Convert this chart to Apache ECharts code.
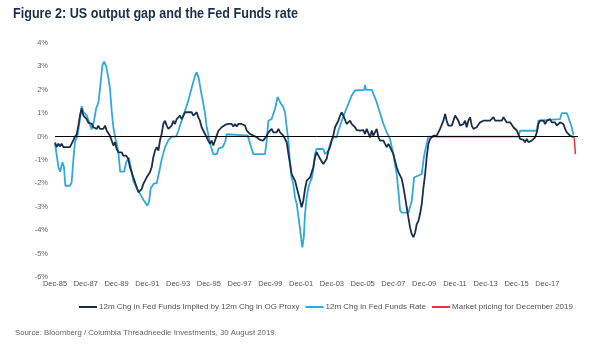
<!DOCTYPE html>
<html>
<head>
<meta charset="utf-8">
<script src="https://cdn.jsdelivr.net/npm/echarts@6/dist/echarts.min.js"></script>
<style>
html,body{margin:0;padding:0;background:#fff;}
#c{width:600px;height:355px;}
</style>
</head>
<body>
<div id="c"></div>
<script>
// x values are decimal years, y values in percentage points
var ogSeries = [
[1985.92,-0.25],[1986.03,-0.45],[1986.14,-0.3],[1986.24,-0.42],[1986.35,-0.3],[1986.46,-0.45],[1986.57,-0.38],[1986.68,-0.45],[1986.78,-0.52],[1986.89,-0.45],
[1987.0,-0.3],[1987.11,-0.15],[1987.22,0],[1987.33,0.1],[1987.43,0.45],[1987.54,0.9],[1987.65,1.2],[1987.76,0.9],[1987.87,0.82],[1987.98,0.75],
[1988.08,0.6],[1988.19,0.68],[1988.3,0.55],[1988.41,0.4],[1988.52,0.47],[1988.63,0.33],[1988.73,0.47],[1988.84,0.33],[1988.95,0.25],[1989.06,0.33],
[1989.17,0.47],[1989.28,0.25],[1989.38,0.18],[1989.49,0.04],[1989.6,-0.17],[1989.71,-0.38],[1989.82,-0.24],[1989.93,-0.53],[1990.04,-0.67],[1990.25,-0.67],
[1990.36,-0.81],[1990.53,-0.81],[1990.68,-0.95],[1990.79,-1.31],[1990.9,-1.52],[1991.01,-1.74],[1991.12,-1.95],[1991.23,-2.17],[1991.34,-2.38],[1991.44,-2.45],
[1991.55,-2.24],[1991.66,-2.02],[1991.77,-1.88],[1991.88,-1.74],[1991.99,-1.74],[1992.09,-1.52],[1992.2,-1.31],[1992.31,-0.88],[1992.42,-0.6],[1992.53,-0.45],
[1992.64,-0.6],[1992.74,-0.17],[1992.85,0.11],[1992.96,0.54],[1993.07,0.68],[1993.18,0.47],[1993.29,0.33],[1993.39,0.25],[1993.5,0.47],[1993.61,0.68],
[1993.72,0.54],[1993.83,0.75],[1993.94,0.68],[1994.04,0.9],[1994.15,0.75],[1994.26,0.9],[1994.37,1.04],[1994.48,0.97],[1994.59,1.04],[1994.69,0.97],
[1994.8,1.04],[1994.91,0.9],[1995.02,0.97],[1995.13,1.04],[1995.23,0.83],[1995.34,0.68],[1995.45,0.4],[1995.56,0.25],[1995.67,0.11],[1995.78,-0.03],
[1995.88,-0.17],[1995.99,-0.31],[1996.1,-0.17],[1996.21,-0.38],[1996.32,-0.17],[1996.43,0.04],[1996.54,0.25],[1996.64,0.25],[1996.75,0.4],[1996.86,0.33],
[1996.97,0.5],[1997.08,0.42],[1997.19,0.54],[1997.3,0.47],[1997.4,0.54],[1997.51,0.43],[1997.62,0.54],[1997.73,0.43],[1997.84,0.54],[1997.95,0.47],
[1998.05,0.54],[1998.16,0.54],[1998.27,0.47],[1998.38,0.26],[1998.49,0.18],[1998.6,0.11],[1998.7,0.11],[1998.81,0.04],[1998.92,-0.03],[1999.03,-0.03],
[1999.14,-0.1],[1999.25,-0.14],[1999.35,-0.17],[1999.46,-0.17],[1999.57,-0.1],[1999.68,0.04],[1999.79,0.18],[1999.9,0.26],[2000.0,0.33],[2000.11,0.18],
[2000.22,0.26],[2000.33,0.18],[2000.44,0.33],[2000.55,0.18],[2000.65,0.11],[2000.76,0.04],[2000.87,-0.03],[2000.98,-0.24],[2001.09,-0.74],[2001.2,-1.17],
[2001.3,-1.6],[2001.41,-1.6],[2001.52,-1.88],[2001.63,-2.17],[2001.74,-2.45],[2001.85,-2.74],[2001.95,-3.02],[2002.06,-2.74],[2002.17,-2.24],[2002.28,-1.88],
[2002.39,-1.88],[2002.5,-1.74],[2002.6,-1.67],[2002.71,-1.31],[2002.82,-0.88],[2002.93,-0.67],[2003.04,-0.81],[2003.15,-0.95],[2003.26,-1.03],[2003.36,-1.17],
[2003.47,-1.24],[2003.58,-0.95],[2003.69,-0.6],[2003.8,-0.45],[2003.9,-0.17],[2004.01,0.04],[2004.12,0.4],[2004.23,0.54],[2004.34,0.68],[2004.45,0.9],
[2004.56,1.04],[2004.66,0.9],[2004.77,0.83],[2004.88,0.54],[2004.99,0.61],[2005.1,0.68],[2005.2,0.54],[2005.31,0.47],[2005.42,0.4],[2005.53,0.28],
[2005.64,0.33],[2005.75,0.26],[2005.86,0.18],[2005.96,0.28],[2006.07,0.11],[2006.18,0.33],[2006.29,0.26],[2006.4,-0.03],[2006.51,0.26],[2006.61,0.04],
[2006.72,0.18],[2006.83,0.33],[2006.94,-0.03],[2007.05,-0.17],[2007.16,-0.1],[2007.27,-0.17],[2007.37,-0.31],[2007.48,-0.45],[2007.59,-0.31],[2007.7,-0.45],
[2007.81,-0.6],[2007.91,-0.74],[2008.02,-1.03],[2008.13,-1.31],[2008.24,-1.52],[2008.35,-1.6],[2008.46,-1.81],[2008.57,-2.17],[2008.68,-2.6],[2008.78,-3.02],
[2008.89,-3.46],[2009.0,-3.89],[2009.11,-4.17],[2009.22,-4.3],[2009.33,-4.1],[2009.43,-3.75],[2009.54,-3.6],[2009.65,-3.3],[2009.76,-2.88],[2009.87,-2.17],
[2009.98,-1.6],[2010.08,-0.88],[2010.19,-0.31],[2010.3,-0.1],[2010.41,-0.03],[2010.52,0.04],[2010.63,0.11],[2010.73,0.04],[2010.84,0.18],[2010.95,0.33],
[2011.06,0.33],[2011.17,0.68],[2011.28,0.97],[2011.38,0.68],[2011.49,0.47],[2011.6,0.4],[2011.71,0.47],[2011.82,0.4],[2011.93,0.9],[2012.03,0.97],
[2012.14,0.68],[2012.25,0.47],[2012.36,0.4],[2012.47,0.54],[2012.58,0.68],[2012.68,0.4],[2012.79,0.68],[2012.9,0.83],[2013.01,0.47],[2013.12,0.33],
[2013.23,0.26],[2013.33,0.4],[2013.44,0.47],[2013.55,0.61],[2013.77,0.68],[2013.88,0.61],[2013.98,0.68],[2014.09,0.75],[2014.2,0.68],[2014.31,0.68],
[2014.42,0.83],[2014.53,0.68],[2014.64,0.75],[2014.74,0.68],[2014.85,0.75],[2014.96,0.68],[2015.07,0.83],[2015.18,0.75],[2015.28,0.61],[2015.39,0.54],
[2015.5,0.61],[2015.61,0.54],[2015.72,0.4],[2015.83,0.33],[2015.94,0.26],[2016.04,0.11],[2016.15,-0.1],[2016.26,-0.17],[2016.37,-0.14],[2016.48,-0.24],
[2016.59,-0.1],[2016.69,-0.24],[2016.8,-0.31],[2016.91,-0.17],[2017.02,-0.1],[2017.13,-0.03],[2017.24,0.18],[2017.34,0.54],[2017.45,0.68],[2017.56,0.61],
[2017.67,0.68],[2017.78,0.54],[2017.89,0.68],[2017.99,0.61],[2018.1,0.75],[2018.21,0.61],[2018.32,0.54],[2018.43,0.61],[2018.54,0.47],[2018.65,0.54],
[2018.75,0.61],[2018.86,0.68],[2018.97,0.54],[2019.08,0.33],[2019.19,0.18],[2019.29,0.11],[2019.4,0.04],[2019.51,0.0],[2019.62,-0.03]
];
var ffSeries = [
[1985.92,-0.3],[1986.14,-1.3],[1986.25,-1.5],[1986.4,-1.1],[1986.5,-1.3],[1986.59,-2.1],[1986.9,-2.1],[1987.0,-1.95],[1987.11,-1.0],[1987.22,-0.2],
[1987.37,0.0],[1987.55,0.8],[1987.65,1.3],[1987.76,1.05],[1987.98,0.9],[1988.2,0.5],[1988.3,0.3],[1988.46,0.7],[1988.59,1.2],[1988.74,1.45],
[1988.85,2.1],[1989.0,3.05],[1989.11,3.2],[1989.24,3.0],[1989.39,2.5],[1989.5,2.0],[1989.6,1.1],[1989.71,0.4],[1989.82,0.0],[1989.93,-0.3],
[1990.04,-0.7],[1990.15,-1.5],[1990.41,-1.5],[1990.54,-1.1],[1990.71,-0.9],[1990.84,-1.3],[1991.01,-1.9],[1991.23,-2.2],[1991.45,-2.45],[1991.66,-2.7],
[1991.92,-2.95],[1992.03,-2.8],[1992.14,-2.2],[1992.36,-2.0],[1992.53,-2.0],[1992.66,-1.6],[1992.86,-0.95],[1993.07,-0.45],[1993.29,-0.15],[1993.51,0.0],
[1993.79,0.0],[1993.94,0.25],[1994.16,0.7],[1994.37,1.1],[1994.59,1.55],[1994.81,2.1],[1995.02,2.6],[1995.13,2.75],[1995.26,2.5],[1995.39,2.0],
[1995.52,1.55],[1995.67,1.0],[1995.78,0.4],[1995.91,0.0],[1996.04,-0.4],[1996.21,-0.75],[1996.43,-0.75],[1996.56,-0.5],[1996.82,-0.45],[1996.99,-0.2],
[1997.08,0.1],[1998.27,0.05],[1998.44,0.05],[1998.6,-0.3],[1998.81,-0.75],[1999.57,-0.75],[1999.68,-0.17],[1999.79,0.68],[2000.0,0.75],[2000.22,1.18],
[2000.39,1.7],[2000.55,1.47],[2000.76,1.25],[2000.87,1.04],[2000.98,0.4],[2001.09,-0.17],[2001.2,-1.17],[2001.3,-1.74],[2001.41,-2.02],[2001.52,-2.6],
[2001.63,-2.88],[2001.78,-3.6],[2001.91,-4.3],[2002.0,-4.73],[2002.09,-4.3],[2002.17,-3.3],[2002.28,-2.6],[2002.39,-2.17],[2002.5,-1.95],[2002.6,-1.81],
[2002.71,-1.38],[2002.82,-0.74],[2002.93,-0.53],[2003.36,-0.53],[2003.47,-0.74],[2003.58,-0.74],[2003.69,-0.6],[2003.8,-0.31],[2003.9,-0.17],[2004.01,-0.03],
[2004.23,-0.03],[2004.34,0.26],[2004.56,0.68],[2004.77,1.04],[2004.99,1.4],[2005.2,1.75],[2005.42,1.97],[2005.53,2.0],[2006.03,2.0],[2006.07,2.2],
[2006.14,2.0],[2006.51,2.0],[2006.61,1.97],[2006.83,1.47],[2007.05,1.0],[2007.27,0.54],[2007.48,0.18],[2007.7,-0.1],[2007.81,-0.45],[2007.91,-0.74],
[2008.02,-1.17],[2008.13,-1.6],[2008.24,-2.31],[2008.35,-3.15],[2008.46,-3.25],[2008.89,-3.25],[2009.11,-2.75],[2009.26,-1.75],[2009.76,-1.6],[2009.87,-1.0],
[2009.98,-0.6],[2010.19,0.0],[2016.04,0.0],[2016.15,0.25],[2017.24,0.25],[2017.34,0.68],[2018.75,0.75],[2018.86,1.0],[2019.19,1.0],[2019.29,0.83],
[2019.4,0.75],[2019.51,0.4],[2019.62,0.05]
];
var mktSeries = [[2019.67,-0.03],[2019.75,-0.75]];
var yTicks = [-6,-5,-4,-3,-2,-1,0,1,2,3,4];
var seriesNames = ['12m Chg in Fed Funds Implied by 12m Chg in OG Proxy','12m Chg in Fed Funds Rate','Market pricing for December 2019'];
var titleText = 'Figure 2: US output gap and the Fed Funds rate';
var sourceText = 'Source: Bloomberg / Columbia Threadneedle Investments, 30 August 2019.';

var START = 1985 + 11/12; // Dec-85
function toMonths(arr){ return arr.map(function(p){ return [(p[0]-START)*12, p[1]]; }); }

var font = '"Liberation Sans",Arial,sans-serif';
var chart = echarts.init(document.getElementById('c'));
chart.setOption({
  animation:false,
  backgroundColor:'#fff',
  graphic:[
    {type:'text', x:13, y:6, scaleX:0.84, style:{text:titleText, fontFamily:font, fontSize:15, fontWeight:'bold', fill:'#1d3048'}},
    {type:'text', left:15, top:329, style:{text:sourceText, fontFamily:font, fontSize:7.8, fill:'#666'}}
  ],
  legend:{
    left:74, top:298, itemWidth:18, itemHeight:2, itemGap:6, icon:'rect',
    textStyle:{fontFamily:font, fontSize:8, color:'#555', padding:[0,0,0,-3]},
    data:seriesNames
  },
  grid:{left:55, right:22, top:43, bottom:78, containLabel:false},
  xAxis:{
    type:'value', min:0, max:408, interval:24,
    axisLine:{show:false}, axisTick:{show:false}, splitLine:{show:false},
    axisLabel:{
      showMaxLabel:false, margin:3, fontFamily:font, fontSize:7.5, color:'#555',
      formatter:function(v){ var y=Math.round(1985+v/12)%100; return 'Dec-'+(y<10?'0':'')+y; }
    }
  },
  yAxis:{
    type:'value', min:yTicks[0], max:yTicks[yTicks.length-1], interval:1,
    axisLine:{show:false}, axisTick:{show:false}, splitLine:{show:false},
    axisLabel:{formatter:'{value}%', margin:7, fontFamily:font, fontSize:7.5, color:'#666'}
  },
  series:[
    {name:seriesNames[1], type:'line', data:toMonths(ffSeries), showSymbol:false, symbol:'none',
     lineStyle:{color:'#2fa9df', width:1.8}, itemStyle:{color:'#2fa9df'}, z:2,
     markLine:{silent:true, symbol:'none', label:{show:false}, lineStyle:{color:'#000', width:1, type:'solid'}, data:[{yAxis:0}]}},
    {name:seriesNames[0], type:'line', data:toMonths(ogSeries), showSymbol:false, symbol:'none',
     lineStyle:{color:'#1b2f4b', width:1.8}, itemStyle:{color:'#1b2f4b'}, z:3},
    {name:seriesNames[2], type:'line', data:toMonths(mktSeries), showSymbol:false, symbol:'none',
     lineStyle:{color:'#e8343c', width:1.5}, itemStyle:{color:'#e8343c'}, z:4}
  ]
});
</script>
</body>
</html>
